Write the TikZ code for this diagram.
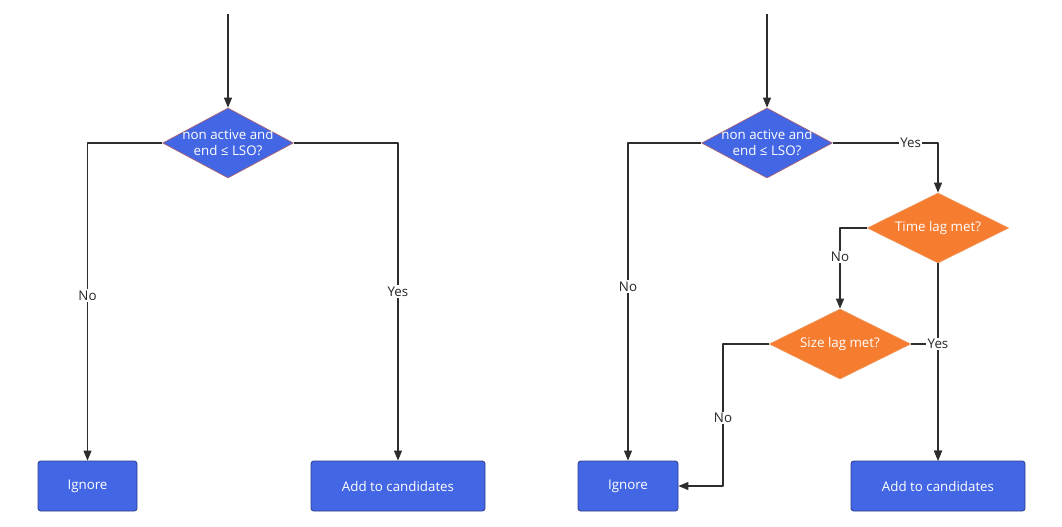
\documentclass[tikz,border=0pt]{standalone}
\usepackage{fontspec}
\setmainfont{Open Sans}
\usetikzlibrary{shapes.geometric,arrows.meta}
\definecolor{boxblue}{RGB}{67,103,228}
\definecolor{boxedge}{RGB}{45,62,140}
\definecolor{deciedge}{RGB}{170,95,110}
\definecolor{lagorange}{RGB}{246,124,48}
\definecolor{lagedge}{RGB}{240,150,90}
\definecolor{wire}{RGB}{45,45,45}
\begin{document}
\begin{tikzpicture}[x=0.75pt,y=-0.75pt,>={Triangle[length=7.5pt,width=6pt]}, font=\fontsize{10}{12}\selectfont, line join=round,
	action/.style={rectangle, rounded corners=2pt, draw=boxedge, fill=boxblue, text=white, minimum height=37.5pt, line width=0.6pt},
	decision/.style={diamond, inner sep=0pt, minimum width=98pt, minimum height=52.5pt, fill=boxblue, draw=deciedge, line width=0.5pt},
	lag/.style={diamond, inner sep=0pt, minimum width=106pt, minimum height=52.5pt, fill=lagorange, draw=lagedge, line width=0.5pt},
	flow/.style={draw=wire, line width=0.8pt},
	tag/.style={fill=white, inner sep=1pt, text=black!85}]
	\useasboundingbox (0,0) rectangle (1062,526);
	% left chart
	\coordinate (startL) at (228,14);
	\node[decision, label={[text=white, align=center]center:non active and\\end ≤ LSO?}] (checkL) at (228,143) {};
	\node[action, minimum width=74.25pt] (ignoreL) at (87.5,486) {Ignore};
	\node[action, minimum width=130.5pt] (addL) at (398,486) {Add to candidates};
	\draw[flow,->] (startL) -- (checkL.north);
	\draw[flow,->] (checkL.west) -| node[tag, pos=0.74]{No} (ignoreL.north);
	\draw[flow,->] (checkL.east) -| node[tag, pos=0.734]{Yes} (addL.north);
	% right chart
	\coordinate (startR) at (767,14);
	\node[decision, label={[text=white, align=center]center:non active and\\end ≤ LSO?}] (checkR) at (767,143) {};
	\node[lag, label={[text=white]center:Time lag met?}] (timeR) at (938,228) {};
	\node[lag, label={[text=white]center:Size lag met?}] (sizeR) at (840,344) {};
	\node[action, minimum width=75pt] (ignoreR) at (628,486) {Ignore};
	\node[action, minimum width=130.5pt] (addR) at (938,486) {Add to candidates};
	\coordinate (bendR) at (723,344);
	\draw[flow,->] (startR) -- (checkR.north);
	\draw[flow,->] (checkR.west) -| node[tag, pos=0.726]{No} (ignoreR.north);
	\draw[flow,->] (checkR.east) -| node[tag, pos=0.37]{Yes} (timeR.north);
	\draw[flow,->] (timeR.west) -| node[tag, pos=0.68]{No} (sizeR.north);
	\draw[flow,->] (timeR.south) -- (addR.north);
	\draw[flow,->] (sizeR.east) -| node[tag, pos=0.5]{Yes} (addR.north);
	\draw[flow,->] (sizeR.west) -- (bendR) |- node[tag, pos=0.26]{No} (ignoreR.east);
\end{tikzpicture}
\end{document}
